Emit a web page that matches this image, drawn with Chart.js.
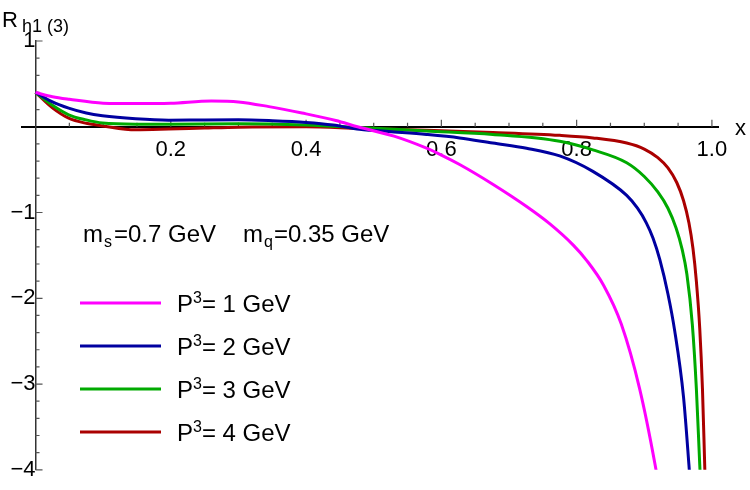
<!DOCTYPE html>
<html>
<head>
<meta charset="utf-8">
<script src="https://cdn.jsdelivr.net/npm/chart.js@4.4.0/dist/chart.umd.min.js"></script>
<style>
  html, body { margin: 0; padding: 0; background: #fff; }
  #wrap { width: 750px; height: 490px; position: relative; }
</style>
</head>
<body>
<div id="wrap"><canvas id="myChart"></canvas></div>
<script>
// P^3 of each curve (GeV) and colours
var momenta = [1, 2, 3, 4];
var lineColors = ['#ff00ff', '#0000a0', '#00aa00', '#aa0000'];

// tick labels
var xTickValues = [0.2, 0.4, 0.6, 0.8, 1.0];
var xTickLabels = ['0.2', '0.4', '0.6', '0.8', '1.0'];
var yTickValues = [1, -1, -2, -3, -4];
var yTickLabels = ['1', '\u22121', '\u22122', '\u22123', '\u22124'];

// P3 = 1 GeV
var x1 = [0, 0.025, 0.05, 0.1, 0.15, 0.2, 0.26, 0.3, 0.345, 0.394, 0.444, 0.476, 0.53, 0.578, 0.6, 0.627, 0.676, 0.726, 0.76, 0.795, 0.815, 0.84, 0.866, 0.893, 0.916, 0.93];
var y1 = [0.40, 0.35, 0.32, 0.275, 0.27, 0.275, 0.30, 0.29, 0.235, 0.16, 0.073, 0, -0.11, -0.25, -0.33, -0.44, -0.67, -0.93, -1.13, -1.38, -1.56, -1.85, -2.3, -3.05, -3.94, -4.6];

// P3 = 2 GeV
var x2 = [0, 0.025, 0.049, 0.075, 0.099, 0.148, 0.197, 0.25, 0.3, 0.35, 0.4, 0.44, 0.479, 0.53, 0.578, 0.627, 0.676, 0.726, 0.775, 0.824, 0.874, 0.89, 0.903, 0.913, 0.923, 0.935, 0.945, 0.958, 0.966, 0.972];
var y2 = [0.40, 0.29, 0.217, 0.16, 0.128, 0.093, 0.077, 0.08, 0.081, 0.07, 0.05, 0.02, -0.03, -0.06, -0.09, -0.13, -0.19, -0.25, -0.34, -0.52, -0.80, -0.95, -1.12, -1.30, -1.55, -1.95, -2.38, -3.15, -3.94, -4.6];

// P3 = 3 GeV
var x3 = [0, 0.025, 0.049, 0.075, 0.099, 0.148, 0.2, 0.3, 0.4, 0.479, 0.578, 0.676, 0.775, 0.824, 0.874, 0.9, 0.92, 0.935, 0.947, 0.956, 0.963, 0.971, 0.977, 0.982, 0.986];
var y3 = [0.40, 0.25, 0.14, 0.08, 0.043, 0.03, 0.03, 0.035, 0.02, -0.01, -0.05, -0.09, -0.17, -0.27, -0.42, -0.58, -0.76, -0.95, -1.18, -1.43, -1.72, -2.3, -3.05, -3.94, -4.6];

// P3 = 4 GeV
var x4 = [0, 0.025, 0.049, 0.075, 0.099, 0.148, 0.197, 0.25, 0.3, 0.4, 0.479, 0.578, 0.676, 0.775, 0.824, 0.874, 0.9, 0.92, 0.935, 0.948, 0.958, 0.966, 0.972, 0.977, 0.982, 0.986, 0.989, 0.992];
var y4 = [0.40, 0.22, 0.10, 0.04, 0.01, -0.035, -0.027, -0.015, -0.005, 0, -0.02, -0.04, -0.066, -0.10, -0.13, -0.19, -0.26, -0.36, -0.48, -0.65, -0.86, -1.12, -1.42, -1.8, -2.35, -3.05, -3.85, -4.7];

var allX = [x1, x2, x3, x4];
var allY = [y1, y2, y3, y4];

var FONT = "'Liberation Sans', Arial, sans-serif";
Chart.defaults.font.family = FONT;

function toPoints(xs, ys) {
    var pts = [];
    for (var i = 0; i < xs.length; i++) pts.push({ x: xs[i], y: ys[i] });
    return pts;
}

var datasets = [];
for (var k = 0; k < momenta.length; k++) {
    datasets.push({
        label: 'P3= ' + momenta[k] + ' GeV',
        data: toPoints(allX[k], allY[k]),
        borderColor: lineColors[k],
        borderWidth: 3,
        pointRadius: 0,
        showLine: true,
        fill: false,
        cubicInterpolationMode: 'monotone',
        clip: 0
    });
}

// small inward tick marks like Mathematica
var axisTicks = {
    id: 'axisTicks',
    beforeDatasetsDraw: function(chart) {
        var ctx = chart.ctx, xs = chart.scales.x, ys = chart.scales.y;
        var x0 = xs.getPixelForValue(0), y0 = ys.getPixelForValue(0);
        ctx.save();
        ctx.strokeStyle = '#555';
        ctx.lineWidth = 1.2;
        ctx.beginPath();
        for (var i = 1; i <= 20; i++) {
            var px = xs.getPixelForValue(i * 0.05);
            var len = (i % 4 === 0) ? 7 : 4;
            ctx.moveTo(px, y0);
            ctx.lineTo(px, y0 - len);
        }
        for (var j = -20; j <= 5; j++) {
            if (j === 0) continue;
            var py = ys.getPixelForValue(j * 0.2);
            var len2 = (j % 5 === 0) ? 7 : 4;
            ctx.moveTo(x0, py);
            ctx.lineTo(x0 + len2, py);
        }
        ctx.stroke();
        ctx.restore();
    }
};

// axis labels, mass text and legend
var annotations = {
    id: 'annotations',
    afterDraw: function(chart) {
        var ctx = chart.ctx;
        ctx.save();
        ctx.fillStyle = '#000';
        ctx.textBaseline = 'alphabetic';
        ctx.textAlign = 'left';

        // y axis label
        ctx.font = '22px ' + FONT;
        ctx.fillText('R', 2, 27);
        ctx.font = '18px ' + FONT;
        ctx.fillText('h1 (3)', 22, 32);

        // x axis label
        ctx.font = '22px ' + FONT;
        ctx.fillText('x', 735, 135);

        // masses
        var x = 83, base = 242;
        ctx.font = '24px ' + FONT;
        ctx.fillText('m', x, base); x += ctx.measureText('m').width + 1;
        ctx.font = '16px ' + FONT;
        ctx.fillText('s', x, base + 5); x += ctx.measureText('s').width + 2;
        ctx.font = '24px ' + FONT;
        ctx.fillText('=0.7 GeV', x, base);
        x = 243;
        ctx.fillText('m', x, base); x += ctx.measureText('m').width + 1;
        ctx.font = '16px ' + FONT;
        ctx.fillText('q', x, base + 5); x += ctx.measureText('q').width + 1;
        ctx.font = '24px ' + FONT;
        ctx.fillText('=0.35 GeV', x, base);

        // legend
        for (var i = 0; i < momenta.length; i++) {
            var ly = 303 + i * 43;
            ctx.strokeStyle = lineColors[i];
            ctx.lineWidth = 3;
            ctx.beginPath();
            ctx.moveTo(80, ly);
            ctx.lineTo(161, ly);
            ctx.stroke();
            var tx = 177;
            ctx.font = '24px ' + FONT;
            ctx.fillText('P', tx, ly + 9); tx += ctx.measureText('P').width;
            ctx.font = '16px ' + FONT;
            ctx.fillText('3', tx, ly); tx += ctx.measureText('3').width;
            ctx.font = '24px ' + FONT;
            ctx.fillText('= ' + momenta[i] + ' GeV', tx, ly + 9);
        }
        ctx.restore();
    }
};

var ctx = document.getElementById('myChart').getContext('2d');
var myChart = new Chart(ctx, {
    type: 'scatter',
    data: { datasets: datasets },
    options: {
        responsive: true,
        maintainAspectRatio: false,
        animation: false,
        layout: { padding: { left: 22, right: 32, top: 41, bottom: 18 } },
        plugins: {
            legend: { display: false },
            tooltip: { enabled: false }
        },
        scales: {
            x: {
                type: 'linear',
                position: { y: 0 },
                min: -0.02,
                max: 1.009,
                afterBuildTicks: function(axis) {
                    axis.ticks = xTickValues.map(function(v) { return { value: v }; });
                },
                ticks: {
                    color: '#000',
                    font: { size: 22 },
                    padding: 10,
                    maxRotation: 0,
                    autoSkip: false,
                    callback: function(value, index) { return xTickLabels[index]; }
                },
                grid: { display: true, drawOnChartArea: false, drawTicks: false },
                border: { display: true, color: '#000', width: 2 }
            },
            y: {
                type: 'linear',
                position: { x: 0 },
                min: -4,
                max: 1,
                afterBuildTicks: function(axis) {
                    axis.ticks = yTickValues.map(function(v) { return { value: v }; });
                },
                ticks: {
                    color: '#000',
                    font: { size: 22 },
                    padding: 7,
                    autoSkip: false,
                    callback: function(value, index) { return yTickLabels[index]; }
                },
                grid: { display: true, drawOnChartArea: false, drawTicks: false },
                border: { display: true, color: '#333', width: 1.5 }
            }
        }
    },
    plugins: [axisTicks, annotations]
});
</script>
</body>
</html>
